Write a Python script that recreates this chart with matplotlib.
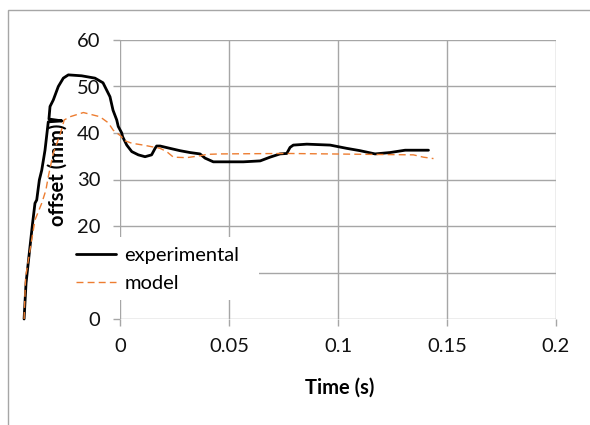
import matplotlib
matplotlib.use("Agg")
import matplotlib.pyplot as plt
from matplotlib.patches import Rectangle

# Offset versus time: measured trace and model prediction
t_experimental = [-0.0440, -0.0431, -0.0416, -0.0401, -0.0390, -0.0382, -0.0370,
                  -0.0359, -0.0344, -0.0329, -0.0266, -0.0326, -0.0321, -0.0306,
                  -0.0283, -0.0260, -0.0237, -0.0176, -0.0115, -0.0078, -0.0046,
                  -0.0032, -0.0015, -0.0008, 0.0008, 0.0012, 0.0031, 0.0054,
                  0.0084, 0.0115, 0.0145, 0.0161, 0.0168, 0.0184, 0.0229, 0.0275,
                  0.0321, 0.0367, 0.0390, 0.0428, 0.0566, 0.0643, 0.0688, 0.0734,
                  0.0765, 0.0780, 0.0795, 0.0857, 0.0964, 0.1040, 0.1101, 0.1170,
                  0.1239, 0.1308, 0.1415]
offset_experimental = [0.0, 7.7, 14.2, 20.6, 24.9, 25.6, 29.9,
                       32.0, 36.3, 42.4, 42.6, 43.0, 45.7, 47.1,
                       50.0, 51.8, 52.5, 52.3, 51.8, 50.8, 47.8,
                       44.9, 42.8, 41.4, 40.0, 39.2, 37.4, 36.0,
                       35.3, 34.9, 35.3, 36.7, 37.2, 37.2, 36.7, 36.2,
                       35.8, 35.5, 34.6, 33.8, 33.8, 34.0, 34.8, 35.5,
                       35.6, 36.9, 37.4, 37.6, 37.4, 36.7, 36.2, 35.5,
                       35.8, 36.3, 36.3]

t_model = [-0.0440, -0.0433, -0.0413, -0.0390, -0.0359, -0.0340, -0.0329,
           -0.0306, -0.0275, -0.0256, -0.0229, -0.0168, -0.0092, -0.0054,
           -0.0031, 0.0008, 0.0012, 0.0054, 0.0107, 0.0184, 0.0214, 0.0245,
           0.0306, 0.0367, 0.0398, 0.0459, 0.0765, 0.1346, 0.1392, 0.1438]
offset_model = [0.0, 9.0, 14.8, 21.3, 24.9, 27.7, 30.6,
                35.7, 39.6, 42.8, 43.5, 44.4, 43.5, 42.2,
                40.6, 39.2, 38.5, 37.8, 37.4, 36.7, 36.0, 34.8,
                34.7, 35.1, 35.4, 35.5, 35.6, 35.3, 34.8, 34.5]

x_ticks = [0, 0.05, 0.1, 0.15, 0.2]
x_tick_labels = ["0", "0.05", "0.1", "0.15", "0.2"]
y_ticks = [0, 10, 20, 30, 40, 50, 60]

W, H = 590, 425
GRID = "#a6a6a6"
ORANGE = "#ed7d31"
FS = 14.5

plt.rcParams["font.family"] = ["Lato", "DejaVu Sans"]

fig = plt.figure(figsize=(W / 100, H / 100), dpi=100)
ax = fig.add_axes([120 / W, 1 - 319 / H, 436 / W, 279 / H])

# chart-area border (continues past the right and bottom edges)
fig.patches.append(Rectangle((7.5 / W, -0.1), 2.0, 1 - 10.5 / H + 0.1,
                             transform=fig.transFigure, fill=False,
                             edgecolor=GRID, linewidth=1.0, zorder=0))

ax.set_xlim(0, 0.2)
ax.set_ylim(0, 60)
ax.set_xticks(x_ticks)
ax.set_xticklabels(x_tick_labels)
ax.set_yticks(y_ticks)
ax.grid(True, color=GRID, linewidth=1.0, zorder=0)
ax.set_axisbelow(True)
for s in ax.spines.values():
    s.set_visible(False)
ax.tick_params(axis="both", direction="out", length=5, width=1.0, color=GRID,
               labelsize=FS, labelcolor="#111111")
ax.tick_params(axis="y", pad=9.0)
ax.tick_params(axis="x", pad=8.5)

ax.set_xlabel("Time (s)", fontsize=FS, fontweight="bold")
ax.xaxis.set_label_coords(0.505, -(394 - 319) / 279)
ax.xaxis.label.set_verticalalignment("baseline")
ax.set_ylabel("offset (mm)", fontsize=FS, fontweight="bold")
ax.yaxis.set_label_coords(-(120 - 58) / 436, (319 - 175) / 279)
ax.yaxis.label.set_verticalalignment("center")

ax.plot(t_experimental, offset_experimental, color="black", linewidth=2.0,
        clip_on=False, zorder=4, solid_joinstyle="round", solid_capstyle="round")
ax.plot(t_model, offset_model, color=ORANGE, linewidth=1.0, linestyle=(0, (5, 3)),
        clip_on=False, zorder=5)

# white legend panel
ax.add_patch(Rectangle((70, H - 300), 189, 63, transform=None, facecolor="white",
                       edgecolor="none", zorder=3, clip_on=False))
leg = ax.legend(["experimental", "model"], frameon=False, fontsize=FS,
                loc="upper left", bbox_to_anchor=(70 / W, 1 - 241 / H),
                bbox_transform=fig.transFigure, borderaxespad=0, borderpad=0.3,
                handlelength=2.0, handletextpad=0.4, labelspacing=0.55)
leg.set_zorder(6)

fig.savefig("out.png", dpi=100, facecolor="white")
